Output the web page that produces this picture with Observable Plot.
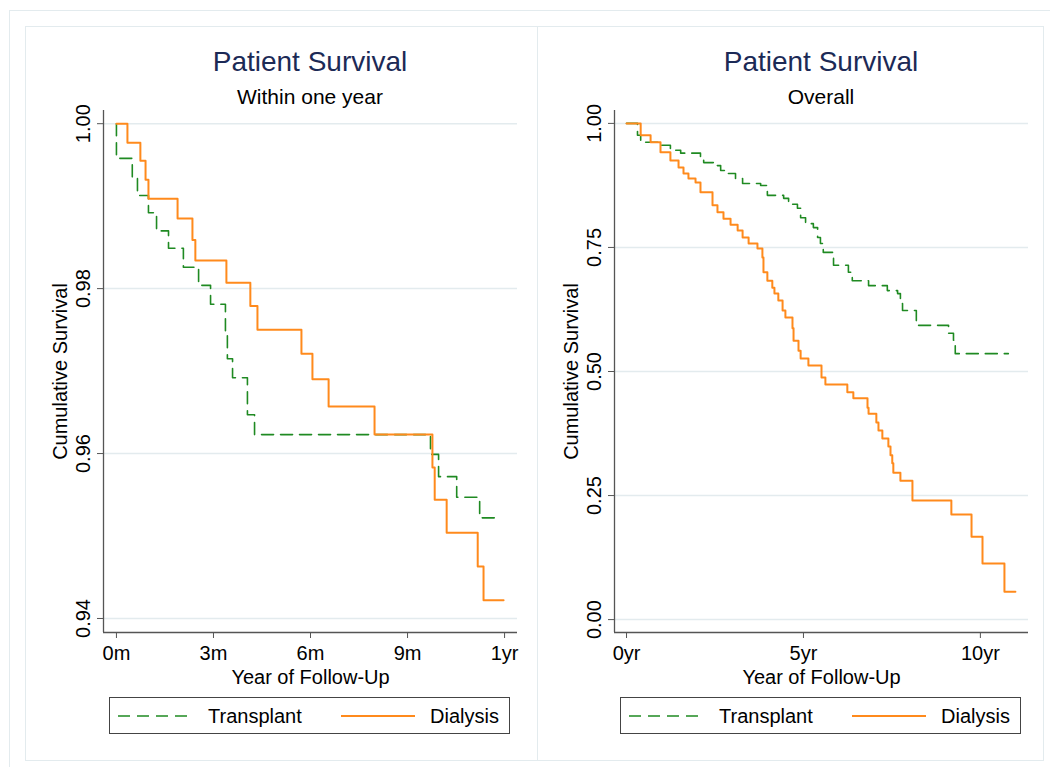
<!DOCTYPE html>
<html><head><meta charset="utf-8">
<script src="https://cdn.jsdelivr.net/npm/d3@7"></script>
<script src="https://cdn.jsdelivr.net/npm/@observablehq/plot@0.6"></script>
<style>
body{margin:0;background:#fff;font-family:"Liberation Sans",Arial,Helvetica,sans-serif;}
#page{position:relative;width:1050px;height:767px;overflow:hidden;background:#fff;}
.line{position:absolute;background:#e3ebee;}
.panel{position:absolute;top:0;height:767px;}
.title{position:absolute;top:48px;text-align:center;color:#1c2a56;font-size:28px;line-height:28px;white-space:nowrap;}
.subtitle{position:absolute;top:86px;text-align:center;color:#000;font-size:21px;line-height:21px;white-space:nowrap;}
.plotwrap{position:absolute;top:100px;left:0;}
.legend{position:absolute;top:697px;}
</style></head><body><div id="page"></div>
<script>
// ---------- data ----------
const seriesNames = ["Transplant", "Dialysis"];

// Panel 1: within one year (time in months)
const oneYearTicks = [0, 3, 6, 9, 12];
const oneYearTickLabels = ["0m", "3m", "6m", "9m", "1yr"];
const oneYearSurvTicks = [0.94, 0.96, 0.98, 1.00];
const oneYearSurvTickLabels = ["0.94", "0.96", "0.98", "1.00"];
const oneYearTransplantMonth = [0, 0, 0.49, 0.65, 0.99, 1.24, 1.61, 2.07, 2.54, 2.91, 3.37, 3.43, 3.59, 4.05, 4.27, 9.71, 9.96, 10.52, 11.23, 11.78];
const oneYearTransplantSurv  = [1, 0.9958, 0.9935, 0.9913, 0.9892, 0.9870, 0.9849, 0.9826, 0.9804, 0.9781, 0.9749, 0.9715, 0.9692, 0.9647, 0.9623, 0.9599, 0.9572, 0.9547, 0.9522, 0.9522];
const oneYearDialysisMonth = [0, 0.34, 0.74, 0.90, 0.99, 1.89, 2.35, 2.44, 3.40, 4.14, 4.36, 5.72, 6.06, 6.56, 7.98, 9.77, 9.84, 10.21, 11.17, 11.35, 11.97];
const oneYearDialysisSurv  = [1, 0.9977, 0.9955, 0.9932, 0.9909, 0.9885, 0.9859, 0.9834, 0.9807, 0.9779, 0.9750, 0.9721, 0.9690, 0.9657, 0.9623, 0.9583, 0.9544, 0.9504, 0.9463, 0.9422, 0.9422];

// Panel 2: overall (time in years)
const overallTicks = [0, 5, 10];
const overallTickLabels = ["0yr", "5yr", "10yr"];
const overallSurvTicks = [0, 0.25, 0.5, 0.75, 1];
const overallSurvTickLabels = ["0.00", "0.25", "0.50", "0.75", "1.00"];
const overallTransplantYear = [0, 0.31, 0.40, 0.88, 1.24, 1.53, 2.09, 2.18, 2.46, 2.66, 2.85, 3.08, 3.28, 3.79, 3.98, 4.44, 4.58, 4.83, 4.92, 5.06, 5.28, 5.40, 5.48, 5.56, 5.85, 6.27, 6.38, 6.84, 7.37, 7.66, 7.74, 7.80, 8.19, 9.10, 9.24, 9.29, 10.79];
const overallTransplantSurv = [1, 0.976, 0.962, 0.956, 0.946, 0.940, 0.933, 0.921, 0.915, 0.905, 0.899, 0.889, 0.879, 0.875, 0.855, 0.849, 0.837, 0.829, 0.810, 0.798, 0.790, 0.770, 0.758, 0.740, 0.714, 0.700, 0.683, 0.673, 0.663, 0.657, 0.637, 0.623, 0.593, 0.577, 0.563, 0.536, 0.536];
const overallDialysisYear = [0, 0.40, 0.68, 0.96, 1.24, 1.47, 1.61, 1.75, 1.95, 2.09, 2.43, 2.57, 2.74, 2.94, 3.14, 3.28, 3.45, 3.70, 3.84, 3.87, 3.98, 4.12, 4.18, 4.29, 4.41, 4.49, 4.69, 4.72, 4.86, 4.92, 5.14, 5.51, 5.62, 6.24, 6.41, 6.81, 6.84, 7.06, 7.12, 7.23, 7.40, 7.46, 7.51, 7.54, 7.74, 8.08, 9.18, 9.75, 10.06, 10.68, 10.99];
const overallDialysisSurv = [1, 0.976, 0.962, 0.942, 0.925, 0.911, 0.899, 0.889, 0.881, 0.861, 0.835, 0.821, 0.808, 0.796, 0.784, 0.770, 0.758, 0.748, 0.730, 0.700, 0.683, 0.669, 0.657, 0.643, 0.623, 0.609, 0.587, 0.562, 0.542, 0.526, 0.512, 0.488, 0.474, 0.458, 0.446, 0.427, 0.415, 0.397, 0.381, 0.365, 0.349, 0.331, 0.315, 0.296, 0.280, 0.240, 0.212, 0.167, 0.113, 0.056, 0.056];

// ---------- style ----------
const FONT = '"Liberation Sans", Arial, Helvetica, sans-serif';
const GREEN = "#1f8a22";
const ORANGE = "#ff8a1c";
const AXIS = "#555";
const GRID = "#e3ebee";
const DASH = "12,7";

const page = document.getElementById("page");
function addLine(l, t, w, h) {
  const d = document.createElement("div");
  d.className = "line";
  Object.assign(d.style, {left: l + "px", top: t + "px", width: w + "px", height: h + "px"});
  page.appendChild(d);
}
// outer and panel borders
addLine(9, 10, 1041, 1); addLine(9, 10, 1, 757);
addLine(25, 26, 1018, 1); addLine(25, 760, 1018, 1);
addLine(25, 26, 1, 734); addLine(537, 26, 1, 734); addLine(1043, 26, 1, 735);

function rows(times, surv) { return times.map((t, i) => ({t, s: surv[i]})); }

function makePanel(cfg) {
  const panel = document.createElement("div");
  panel.className = "panel";
  panel.style.left = cfg.left + "px";
  panel.style.width = cfg.width + "px";
  const plotW = cfg.width - cfg.marginLeft - cfg.marginRight;

  const t = document.createElement("div");
  t.className = "title";
  t.style.left = cfg.marginLeft + "px"; t.style.width = plotW + "px";
  t.textContent = cfg.title;
  panel.appendChild(t);
  const st = document.createElement("div");
  st.className = "subtitle";
  st.style.left = cfg.marginLeft + "px"; st.style.width = plotW + "px";
  st.textContent = cfg.subtitle;
  panel.appendChild(st);

  const svg = Plot.plot({
    width: cfg.width, height: 590,
    marginLeft: cfg.marginLeft, marginRight: cfg.marginRight, marginTop: 10, marginBottom: 58,
    x: {domain: cfg.xDomain},
    y: {domain: cfg.yDomain},
    style: {fontFamily: FONT, fontSize: "20px", color: "#000", background: "transparent", overflow: "visible"},
    marks: [
      Plot.gridY(cfg.yTicks, {stroke: GRID, strokeOpacity: 1, strokeWidth: 1.5}),
      Plot.ruleX([cfg.xDomain[0]], {stroke: AXIS, strokeWidth: 1.3}),
      Plot.ruleY([cfg.yDomain[0]], {stroke: AXIS, strokeWidth: 1.3}),
      Plot.axisX(cfg.xTicks, {
        tickFormat: d => cfg.xLabels[cfg.xTicks.indexOf(d)],
        tickSize: 6, tickPadding: 7, stroke: AXIS, fill: "#000",
        label: "Year of Follow-Up", labelAnchor: "center", labelOffset: 51, labelArrow: false
      }),
      Plot.axisY(cfg.yTicks, {
        tickFormat: d => cfg.yLabels[cfg.yTicks.indexOf(d)],
        tickSize: 6, tickPadding: 8, tickRotate: -90, textAnchor: "middle", lineAnchor: "bottom",
        stroke: AXIS, fill: "#000",
        label: "Cumulative Survival", labelAnchor: "center", labelOffset: 51, labelArrow: false
      }),
      Plot.line(cfg.transplant, {x: "t", y: "s", curve: "step-after", stroke: GREEN, strokeWidth: 1.6, strokeDasharray: DASH}),
      Plot.line(cfg.dialysis, {x: "t", y: "s", curve: "step-after", stroke: ORANGE, strokeWidth: 2})
    ]
  });
  const wrap = document.createElement("div");
  wrap.className = "plotwrap";
  wrap.appendChild(svg);
  panel.appendChild(wrap);

  // legend
  const lg = document.createElement("div");
  lg.className = "legend";
  lg.style.left = (cfg.marginLeft + 6) + "px";
  lg.innerHTML = `<svg width="402" height="38" style="display:block;font-family:${FONT.replace(/"/g, "'")}">
    <rect x="0.5" y="0.5" width="400" height="36" fill="#fff" stroke="#444" stroke-width="1"/>
    <line x1="9" x2="83" y1="19" y2="19" stroke="${GREEN}" stroke-width="1.6" stroke-dasharray="${DASH}"/>
    <text x="99" y="26" font-size="20" fill="#000">${seriesNames[0]}</text>
    <line x1="232" x2="306" y1="19" y2="19" stroke="${ORANGE}" stroke-width="2"/>
    <text x="321" y="26" font-size="20" fill="#000">${seriesNames[1]}</text>
  </svg>`;
  panel.appendChild(lg);
  page.appendChild(panel);
}

makePanel({
  left: 25, width: 512, marginLeft: 78, marginRight: 20,
  title: "Patient Survival", subtitle: "Within one year",
  xDomain: [-0.40, 12.40], yDomain: [0.9383, 1.0016],
  xTicks: oneYearTicks, xLabels: oneYearTickLabels,
  yTicks: oneYearSurvTicks, yLabels: oneYearSurvTickLabels,
  transplant: rows(oneYearTransplantMonth, oneYearTransplantSurv),
  dialysis: rows(oneYearDialysisMonth, oneYearDialysisSurv)
});
makePanel({
  left: 537, width: 506, marginLeft: 77, marginRight: 15,
  title: "Patient Survival", subtitle: "Overall",
  xDomain: [-0.34, 11.36], yDomain: [-0.026, 1.026],
  xTicks: overallTicks, xLabels: overallTickLabels,
  yTicks: overallSurvTicks, yLabels: overallSurvTickLabels,
  transplant: rows(overallTransplantYear, overallTransplantSurv),
  dialysis: rows(overallDialysisYear, overallDialysisSurv)
});
</script>
</body></html>
